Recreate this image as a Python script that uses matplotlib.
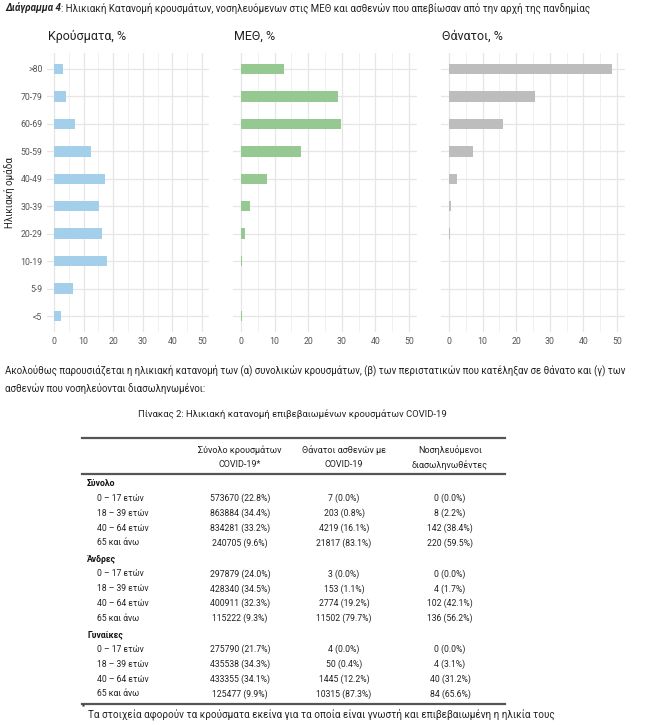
import matplotlib.pyplot as plt
from matplotlib.lines import Line2D

plt.rcParams['font.family'] = ['Roboto', 'DejaVu Sans']

W, H = 650, 725

age_groups = ['<5', '5-9', '10-19', '20-29', '30-39', '40-49', '50-59', '60-69', '70-79', '>80']
cases_pct = [2.5, 6.3, 17.8, 16.1, 15.2, 17.2, 12.4, 7.0, 3.9, 2.9]
icu_pct = [0.2, 0.1, 0.3, 1.2, 2.7, 7.8, 17.8, 29.8, 28.8, 12.8]
deaths_pct = [0.1, 0.0, 0.1, 0.3, 0.7, 2.5, 7.2, 16.0, 25.5, 48.4]
panel_titles = ['Κρούσματα, %', 'ΜΕΘ, %', 'Θάνατοι, %']
panel_colors = ['#a3cfea', '#95c991', '#bdbdbd']
x_ticks = [0, 10, 20, 30, 40, 50]

col_heads = [('Σύνολο κρουσμάτων', 'COVID-19*'), ('Θάνατοι ασθενών με', 'COVID-19'),
             ('Νοσηλευόμενοι', 'διασωληνωθέντες')]
groups = ['Σύνολο', 'Άνδρες', 'Γυναίκες']
row_labels = ['0 – 17 ετών', '18 – 39 ετών', '40 – 64 ετών', '65 και άνω']
cases_n = [[573670, 863884, 834281, 240705], [297879, 428340, 400911, 115222],
           [275790, 435538, 433355, 125477]]
cases_p = [[22.8, 34.4, 33.2, 9.6], [24.0, 34.5, 32.3, 9.3], [21.7, 34.3, 34.1, 9.9]]
deaths_n = [[7, 203, 4219, 21817], [3, 153, 2774, 11502], [4, 50, 1445, 10315]]
deaths_p = [[0.0, 0.8, 16.1, 83.1], [0.0, 1.1, 19.2, 79.7], [0.0, 0.4, 12.2, 87.3]]
icu_n = [[0, 8, 142, 220], [0, 4, 102, 136], [0, 4, 40, 84]]
icu_p = [[0.0, 2.2, 38.4, 59.5], [0.0, 1.7, 42.1, 56.2], [0.0, 3.1, 31.2, 65.6]]

title_bold = 'Διάγραμμα 4'
title_rest = ': Ηλικιακή Κατανομή κρουσμάτων, νοσηλευόμενων στις ΜΕΘ και ασθενών που απεβίωσαν από την αρχή της πανδημίας'


def fx(x):
    return x / W


def fy(y):
    return 1 - y / H


def hline(x0, x1, y, lw=1.6, color='#555555'):
    fig.add_artist(Line2D([fx(x0), fx(x1)], [fy(y), fy(y)], lw=lw, color=color))


fig = plt.figure(figsize=(W / 100, H / 100), dpi=100)
fig.patch.set_facecolor('white')

# title line: bold italic part, then normal text right after it
t1 = fig.text(fx(5), fy(8), title_bold, fontsize=7.0, fontweight='bold',
              style='italic', va='center', color='#222222')
bb = t1.get_window_extent(renderer=fig.canvas.get_renderer())
fig.text(bb.x1 / W, fy(8), title_rest, fontsize=7.0, va='center', color='#222222')

# three panels
panels = [(46.6, 209.4), (232.6, 417.4), (440.6, 625.4)]
top, bottom = 52.5, 332.5
series = [cases_pct, icu_pct, deaths_pct]
ypos = list(range(len(age_groups)))
for i, (l, r) in enumerate(panels):
    ax = fig.add_axes([fx(l), fy(bottom), fx(r) - fx(l), (bottom - top) / H])
    ax.barh(ypos, series[i], height=0.38, color=panel_colors[i], zorder=2)
    ax.set_xlim(-2.5, 52.5)
    ax.set_ylim(-0.6, len(age_groups) - 0.4)
    ax.set_xticks(x_ticks)
    ax.set_xticks([5, 15, 25, 35, 45], minor=True)
    ax.set_yticks(ypos)
    ax.grid(True, which='major', color='#e6e6e6', lw=0.9, zorder=0)
    ax.grid(True, which='minor', axis='x', color='#eeeeee', lw=0.6, zorder=0)
    for s in ax.spines.values():
        s.set_visible(False)
    ax.tick_params(which='both', length=0, labelsize=6.3, labelcolor='#555555', pad=3)
    if i == 0:
        ax.set_yticklabels(age_groups)
        ax.set_ylabel('Ηλικιακή ομάδα', fontsize=7, color='#222222', labelpad=4)
    else:
        ax.set_yticklabels([])
    ax.set_title(panel_titles[i], loc='left', fontsize=9, color='#222222', pad=9, x=0.01)

# paragraph
fig.text(fx(5), fy(370), 'Ακολούθως παρουσιάζεται η ηλικιακή κατανομή των (α) συνολικών κρουσμάτων, '
         '(β) των περιστατικών που κατέληξαν σε θάνατο και (γ) των', fontsize=6.9, va='center', color='#222222')
fig.text(fx(5), fy(389), 'ασθενών που νοσηλεύονται διασωληνωμένοι:', fontsize=6.9, va='center', color='#222222')

fig.text(fx(292), fy(414), 'Πίνακας 2: Ηλικιακή κατανομή επιβεβαιωμένων κρουσμάτων COVID-19',
         fontsize=6.8, ha='center', va='center', color='#222222')

# table
fs = 6.2
tl, tr = 82, 505
col_x = [240, 344, 450]
hline(tl, tr, 438)
hline(tl, tr, 474)
for j, (a, b) in enumerate(col_heads):
    fig.text(fx(col_x[j]), fy(450), a, fontsize=6.5, ha='center', va='center', color='#222222')
    fig.text(fx(col_x[j]), fy(465), b, fontsize=6.5, ha='center', va='center', color='#222222')

last_y = 0
for g, name in enumerate(groups):
    gy = 484 + g * 75.5
    fig.text(fx(87), fy(gy), name, fontsize=fs, fontweight='bold', va='center', color='#111111')
    for k, lab in enumerate(row_labels):
        ry = gy + 14.5 + k * 14.8
        last_y = ry
        fig.text(fx(97), fy(ry), lab, fontsize=fs, va='center', color='#222222')
        cells = [f'{cases_n[g][k]} ({cases_p[g][k]:.1f}%)',
                 f'{deaths_n[g][k]} ({deaths_p[g][k]:.1f}%)',
                 f'{icu_n[g][k]} ({icu_p[g][k]:.1f}%)']
        for j, c in enumerate(cells):
            fig.text(fx(col_x[j]), fy(ry), c, fontsize=fs, ha='center', va='center', color='#222222')

hline(tl, tr, last_y + 10)
fig.text(fx(82), fy(707), '*', fontsize=5, va='center', color='#222222')
fig.text(fx(88), fy(714), 'Τα στοιχεία αφορούν τα κρούσματα εκείνα για τα οποία είναι γνωστή και επιβεβαιωμένη η ηλικία τους',
         fontsize=7.1, va='center', color='#222222')

fig.savefig('out.png', dpi=100, facecolor='white')
